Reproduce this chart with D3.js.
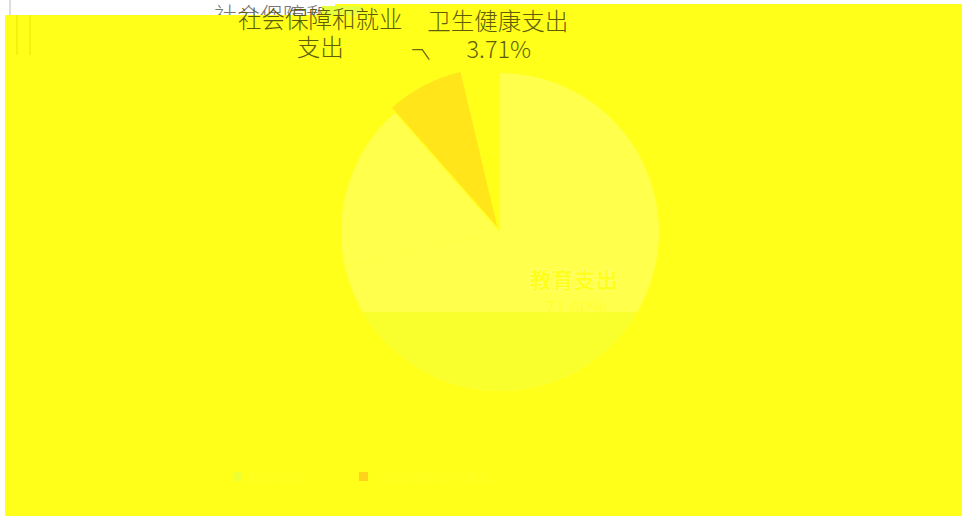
<!DOCTYPE html>
<html>
<head>
<meta charset="utf-8">
<script src="https://cdn.jsdelivr.net/npm/d3@7"></script>
<style>
  body { margin: 0; background: #fff; }
  svg { display: block; font-family: "Noto Sans CJK SC", "Noto Sans", sans-serif; }
</style>
</head>
<body>
<svg id="chart"></svg>
<script>
// pie data (percent)
let categories = ['教育支出', '其他支出', '社会保障和就业支出', '卫生健康支出'];
let values = [71.6, 16.9, 7.79, 3.71];
let sliceColors = ['#ffff4c', '#ffff4c', '#ffe51a', '#ffff1a'];
let legendNames = ['教育支出', '社会保障和就业支出'];
let legendColors = ['#eeff34', '#ffd21c'];

let width = 966;
let height = 518;
let cx = 500;
let cy = 232;
let radius = 159;

let svg = d3.select('#chart').attr('width', width).attr('height', height);

// white page with the yellow layer laid over it, slightly out of line
svg.append('rect').attr('width', width).attr('height', height).attr('fill', '#fff');
svg.append('line').attr('x1', 10).attr('x2', 10).attr('y1', 0).attr('y2', 15)
  .attr('stroke', '#ddd').attr('stroke-width', 2);
svg.append('text').attr('x', 214).attr('y', 24).attr('font-size', 23).attr('font-weight', 300)
  .attr('fill', '#777').text('社会保障和');
svg.append('rect').attr('x', 5).attr('y', 15).attr('width', 330).attr('height', 501).attr('fill', '#ffff1a');
svg.append('rect').attr('x', 335).attr('y', 4).attr('width', 627).attr('height', 512).attr('fill', '#ffff1a');
svg.append('rect').attr('x', 322).attr('y', 6).attr('width', 40).attr('height', 9).attr('fill', '#e8ff40');
[17, 30].forEach(x => {
  svg.append('line').attr('x1', x).attr('x2', x).attr('y1', 15).attr('y2', 55)
    .attr('stroke', '#f6f010').attr('stroke-width', 2);
});

let pie = d3.pie().sort(null).value(d => d.value);
let arcs = pie(categories.map((c, i) => ({ name: c, value: values[i], color: sliceColors[i] })));
let arc = d3.arc().innerRadius(0).outerRadius(radius);

let g = svg.append('g').attr('transform', `translate(${cx},${cy})`);

g.append('clipPath').attr('id', 'lower')
  .append('rect').attr('x', -radius).attr('y', 312 - cy).attr('width', 2 * radius).attr('height', radius);

g.selectAll('path.slice')
  .data(arcs)
  .enter()
  .append('path')
  .attr('class', 'slice')
  .attr('d', arc)
  .attr('fill', d => d.data.color)
  .attr('transform', d => {
    if (d.index < 2) return null;
    let [x, y] = arc.centroid(d);
    let len = Math.hypot(x, y);
    return `translate(${x / len * 6},${y / len * 6})`;
  });

// lower band of the pie is a touch greener
g.append('path')
  .attr('d', arc({ startAngle: arcs[0].startAngle, endAngle: arcs[1].endAngle }))
  .attr('fill', '#f8ff2c')
  .attr('clip-path', 'url(#lower)');

// inside label of the large slice
let inner = d3.arc().innerRadius(radius * 0.58).outerRadius(radius * 0.58);
let [ix, iy] = inner.centroid(arcs[0]);
g.append('text').attr('x', ix + 2).attr('y', iy - 2).attr('text-anchor', 'middle')
  .attr('font-size', 22).attr('font-weight', 'bold').attr('fill', '#ffff1e')
  .attr('stroke', '#ffff70').attr('stroke-width', 2).attr('paint-order', 'stroke')
  .text(categories[0]);
g.append('text').attr('x', ix + 4).attr('y', iy + 24).attr('text-anchor', 'middle')
  .attr('font-size', 18).attr('fill', '#ffff30')
  .text(values[0].toFixed(2) + '%');

// outside labels
let outer = d3.arc().innerRadius(radius * 1.2).outerRadius(radius * 1.2);
let [sx, sy] = outer.centroid(arcs[2]);
g.append('path')
  .attr('d', `M${sx + 17},${sy - 3}L${sx + 10},${sy - 13}L${sx},${sy - 13}`)
  .attr('fill', 'none').attr('stroke', '#6a6a08').attr('stroke-width', 1.3);
let soc = g.append('text').attr('text-anchor', 'middle').attr('font-size', 23.5)
  .attr('font-weight', 300).attr('fill', '#5e5e08');
soc.append('tspan').attr('x', sx - 92).attr('y', sy - 35).text('社会保障和就业');
soc.append('tspan').attr('x', sx - 92).attr('y', sy - 7).text('支出');

let [hx, hy] = outer.centroid(arcs[3]);
let hea = g.append('text').attr('text-anchor', 'middle').attr('font-size', 23.5)
  .attr('font-weight', 300).attr('fill', '#5e5e08');
hea.append('tspan').attr('x', hx + 20).attr('y', hy - 13).text(categories[3]);
hea.append('tspan').attr('x', hx + 21).attr('y', hy + 15).text(values[3].toFixed(2) + '%');

// legend, nearly lost in the yellow
let legend = svg.append('g').selectAll('g')
  .data(legendNames)
  .enter()
  .append('g')
  .attr('transform', (d, i) => `translate(${233 + i * 126},472)`);
legend.append('rect').attr('width', 9).attr('height', 9)
  .attr('fill', (d, i) => legendColors[i]);
legend.append('text').attr('x', 16).attr('y', 10).attr('font-size', 13)
  .attr('fill', '#ffff22').text(d => d);
</script>
</body>
</html>
